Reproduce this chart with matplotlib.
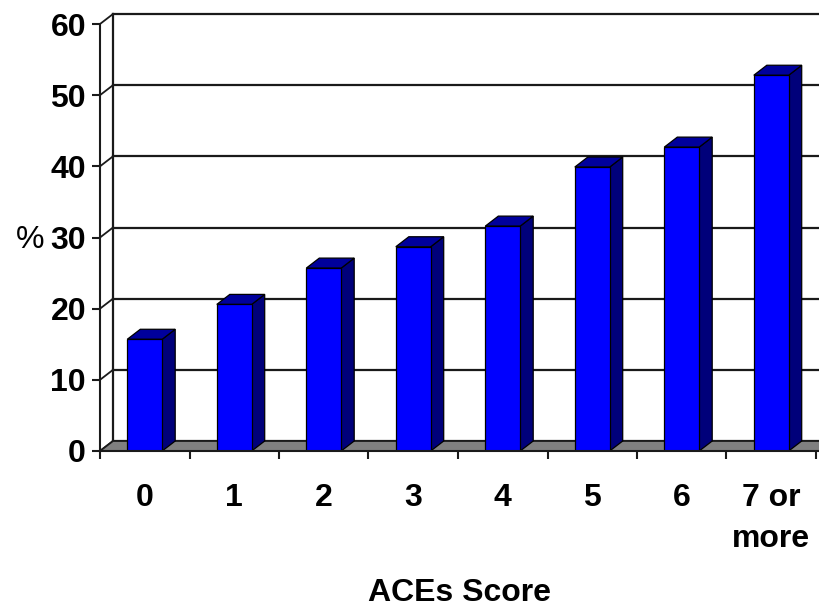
import numpy as np
import matplotlib
matplotlib.use('Agg')
from matplotlib import pyplot as plt

# chart data
categories = ['0', '1', '2', '3', '4', '5', '6', '7 or\nmore']
percent = [15.7, 20.6, 25.7, 28.7, 31.6, 39.9, 42.7, 52.8]
y_ticks = [0, 10, 20, 30, 40, 50, 60]

plt.rcParams['font.family'] = ['Liberation Sans Narrow', 'Liberation Sans', 'DejaVu Sans']

W, H = 819, 610
fig = plt.figure(figsize=(W / 100, H / 100), dpi=100)

# pixel layout of the plot frame
left_px, right_px = 100, 819
bottom_px, top_px = 451, 10
px_per_cat = 89.5
px_per_val = 427 / 60.0

ax = fig.add_axes([left_px / W, 1 - bottom_px / H,
                   (right_px - left_px) / W, (bottom_px - top_px) / H])
ax.set_xlim(0, (right_px - left_px) / px_per_cat)
ax.set_ylim(0, (bottom_px - top_px) / px_per_val)

# depth of the 3d box in data units
dx = 13 / px_per_cat
dy = 10 / px_per_val
n = len(categories)
xmax = ax.get_xlim()[1]
line_c = '#1a1a1a'

# back wall: vertical line, gridlines, diagonals to the front axis
ax.plot([dx, dx], [dy, y_ticks[-1] + dy], color=line_c, lw=1.6, zorder=1, clip_on=False)
for v in y_ticks:
    ax.plot([dx, xmax + 1], [v + dy, v + dy], color=line_c, lw=1.6, zorder=1)
    ax.plot([0, dx], [v, v + dy], color=line_c, lw=1.3, zorder=1)

# floor
ax.fill([0, xmax + 1, xmax + 1, dx], [0, 0, dy, dy], facecolor='#808080',
        edgecolor=line_c, lw=1.3, zorder=2)

# bars
bw = 0.39
for i, h in enumerate(percent):
    x0 = i + 0.5 - bw / 2
    x1 = i + 0.5 + bw / 2
    ax.fill([x1, x1 + dx, x1 + dx, x1], [0, dy, h + dy, h],
            facecolor='#00007A', edgecolor='black', lw=0.9, zorder=3)
    ax.fill([x0, x1, x1 + dx, x0 + dx], [h, h, h + dy, h + dy],
            facecolor='#00009C', edgecolor='black', lw=0.9, zorder=3)
    ax.fill([x0, x1, x1, x0], [0, 0, h, h],
            facecolor='#0000FF', edgecolor='black', lw=0.9, zorder=4)

# axes frame and ticks
for s in ['top', 'right']:
    ax.spines[s].set_visible(False)
ax.spines['left'].set_bounds(0, y_ticks[-1])
for s in ['left', 'bottom']:
    ax.spines[s].set_linewidth(1.5)
    ax.spines[s].set_color(line_c)
    ax.spines[s].set_zorder(5)

fs = 23
ax.set_yticks(y_ticks)
ax.set_yticklabels([str(v) for v in y_ticks], fontweight='bold', fontsize=fs)
ax.tick_params(axis='y', length=6, width=1.5, pad=4, color=line_c)

ax.set_xticks(np.arange(n + 1))
ax.set_xticklabels([])
ax.set_xticks(np.arange(n) + 0.5, minor=True)
ax.set_xticklabels(categories, minor=True, fontweight='bold', fontsize=fs)
ax.tick_params(axis='x', which='major', length=6, width=1.5, color=line_c)
ax.tick_params(axis='x', which='minor', length=0, pad=23)
for lab in ax.get_xticklabels(minor=True):
    lab.set_linespacing(1.5)
    lab.set_multialignment('center')

ax.set_xlabel('ACEs Score', fontweight='bold', fontsize=fs, va='center')
ax.xaxis.set_label_coords(0.5, (bottom_px - 593) / (bottom_px - top_px))
ax.set_ylabel('%', fontsize=fs, rotation=0, va='center', ha='center')
ax.yaxis.set_label_coords((30 - left_px) / (right_px - left_px), (bottom_px - 240) / (bottom_px - top_px))

fig.savefig('out.png', dpi=100)
